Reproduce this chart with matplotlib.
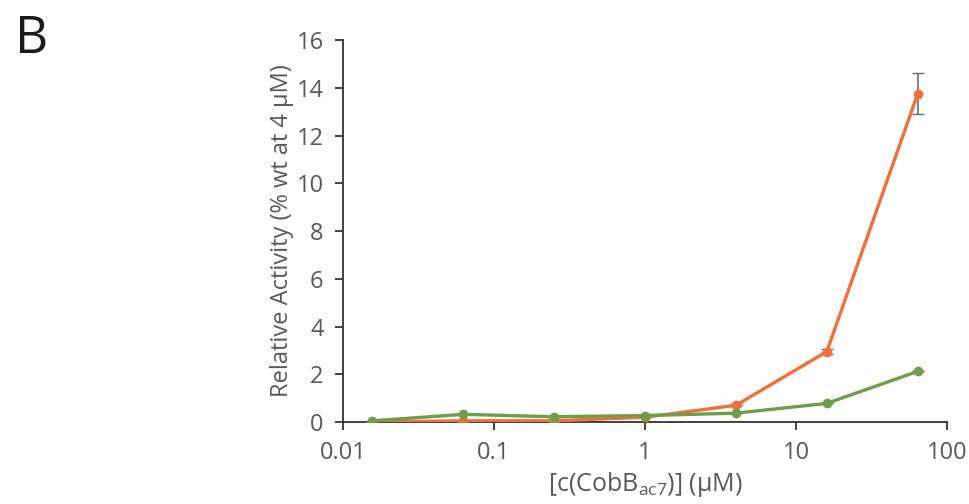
import numpy as np
import matplotlib.pyplot as plt
from matplotlib.ticker import FixedLocator, NullLocator

plt.rcParams['font.family'] = ['Open Sans', 'DejaVu Sans']
plt.rcParams['mathtext.fontset'] = 'custom'
plt.rcParams['mathtext.rm'] = 'Open Sans'

# data
conc = [0.015625, 0.0625, 0.25, 1, 4, 16, 64]
orange_vals = [0.0, 0.05, 0.05, 0.2, 0.7, 2.95, 13.75]
orange_err = [0, 0, 0, 0, 0.05, 0.1, 0.85]
green_vals = [0.05, 0.32, 0.22, 0.27, 0.37, 0.78, 2.12]
green_err = [0, 0, 0, 0, 0, 0, 0]
x_ticks = [0.01, 0.1, 1, 10, 100]
x_labels = ['0.01', '0.1', '1', '10', '100']
y_ticks = [0, 2, 4, 6, 8, 10, 12, 14, 16]

txt = '#595959'
fig = plt.figure(figsize=(9.7, 5.04), dpi=100)
ax = fig.add_axes([0.3536, 0.1627, 0.6227, 0.7579])

ax.errorbar(conc, orange_vals, yerr=orange_err, color='#F0703A', lw=2.4,
            marker='o', ms=6, ecolor='#6d6d6d', elinewidth=1.2, capsize=4, zorder=3)
ax.errorbar(conc, green_vals, yerr=green_err, color='#6E9E49', lw=2.4,
            marker='o', ms=6, ecolor='#6d6d6d', elinewidth=1.2, capsize=4, zorder=4)

ax.set_xscale('log')
ax.set_xlim(0.01, 100)
ax.set_ylim(0, 16)
ax.xaxis.set_major_locator(FixedLocator(x_ticks))
ax.xaxis.set_minor_locator(NullLocator())
ax.set_xticks(x_ticks, x_labels)
ax.set_yticks(y_ticks)

for s in ['top', 'right']:
    ax.spines[s].set_visible(False)
for s in ['left', 'bottom']:
    ax.spines[s].set_color('#333333')
    ax.spines[s].set_linewidth(1.3)
ax.tick_params(direction='out', length=6, width=1.3, color='#333333',
               labelsize=17, labelcolor=txt, pad=8)

ax.set_ylabel('Relative Activity (% wt at 4 μM)', fontsize=17, color=txt, labelpad=2)
ax.set_xlabel(r'[c(CobB$_{\mathrm{ac7}}$)] (μM)', fontsize=18, color=txt, labelpad=3)

fig.text(0.015, 0.895, 'B', fontsize=37, color='#1a1a1a')

fig.savefig('out.png', dpi=100)
